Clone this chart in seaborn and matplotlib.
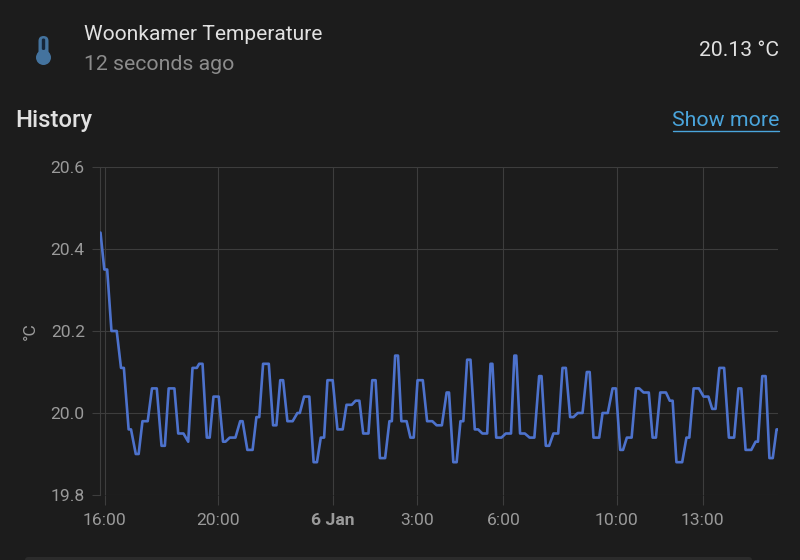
import matplotlib

matplotlib.use("Agg")
import matplotlib.pyplot as plt
import pandas as pd
import seaborn as sns
from matplotlib.patches import Circle, FancyBboxPatch

# minutes after 16:00
minutes = [
    -5, 3, 9, 18, 29, 38, 44, 54, 59, 69, 75, 83, 94, 103, 113, 123, 130, 138, 150, 158,
    169, 179, 188, 197, 202, 209, 218, 224, 232, 243, 252, 257, 266, 278, 288, 293, 303, 314, 322, 328,
    336, 348, 357, 364, 372, 378, 387, 398, 408, 413, 422, 433, 442, 449, 457, 464, 471, 482, 492, 503,
    511, 522, 530, 538, 546, 557, 565, 572, 581, 592, 601, 606, 613, 619, 626, 637, 645, 652, 660, 671,
    680, 691, 700, 711, 721, 726, 735, 742, 750, 756, 764, 771, 780, 787, 796, 806, 813, 817, 825, 836,
    845, 856, 863, 867, 875, 885, 895, 905, 915, 920, 929, 936, 945, 955, 964, 971, 980, 987, 996, 1006,
    1015, 1021, 1029, 1041, 1048, 1059, 1069, 1076, 1085, 1091, 1099, 1109, 1118, 1125, 1134, 1145, 1153, 1160, 1169, 1181,
    1189, 1195, 1203, 1215, 1224, 1230, 1239, 1250, 1260, 1270, 1278, 1285, 1293, 1303, 1313, 1324, 1333, 1339, 1348, 1360,
    1369, 1374, 1383, 1390, 1398, 1405, 1413, 1416,
]
temps = [
    20.44, 20.35, 20.35, 20.20, 20.20, 20.11, 20.11, 19.96, 19.96, 19.90, 19.90, 19.98, 19.98, 20.06, 20.06, 19.92, 19.92, 20.06, 20.06, 19.95,
    19.95, 19.93, 20.11, 20.11, 20.12, 20.12, 19.94, 19.94, 20.04, 20.04, 19.93, 19.93, 19.94, 19.94, 19.98, 19.98, 19.91, 19.91, 19.99, 19.99,
    20.12, 20.12, 19.97, 19.97, 20.08, 20.08, 19.98, 19.98, 20.00, 20.00, 20.04, 20.04, 19.88, 19.88, 19.94, 19.94, 20.08, 20.08, 19.96, 19.96,
    20.02, 20.02, 20.03, 20.03, 19.95, 19.95, 20.08, 20.08, 19.89, 19.89, 19.98, 19.98, 20.14, 20.14, 19.98, 19.98, 19.94, 19.94, 20.08, 20.08,
    19.98, 19.98, 19.97, 19.97, 20.05, 20.05, 19.88, 19.88, 19.98, 19.98, 20.13, 20.13, 19.96, 19.96, 19.95, 19.95, 20.12, 20.12, 19.94, 19.94,
    19.95, 19.95, 20.14, 20.14, 19.95, 19.95, 19.94, 19.94, 20.09, 20.09, 19.92, 19.92, 19.95, 19.95, 20.11, 20.11, 19.99, 19.99, 20.00, 20.00,
    20.10, 20.10, 19.94, 19.94, 20.00, 20.00, 20.06, 20.06, 19.91, 19.91, 19.94, 19.94, 20.06, 20.06, 20.05, 20.05, 19.94, 19.94, 20.05, 20.05,
    20.03, 20.03, 19.88, 19.88, 19.94, 19.94, 20.06, 20.06, 20.04, 20.04, 20.01, 20.01, 20.11, 20.11, 19.94, 19.94, 20.06, 20.06, 19.91, 19.91,
    19.93, 19.93, 20.09, 20.09, 19.89, 19.89, 19.96, 19.96,
]
tick_minutes = [4, 242, 482, 659, 840, 1078, 1258]
tick_labels = ["16:00", "20:00", "6 Jan", "3:00", "6:00", "10:00", "13:00"]
y_ticks = [19.8, 20.0, 20.2, 20.4, 20.6]

BG = "#1c1c1c"
GRID = "#3d3d3d"
AXIS_TEXT = "#9a9a9a"
ICON = "#44739e"

sns.set_theme(style="dark")
plt.rcParams["font.family"] = ["Roboto", "DejaVu Sans"]

W, H = 800, 560
fig = plt.figure(figsize=(8, 5.6), dpi=100, facecolor=BG)
ax = fig.add_axes([100.5 / W, 1 - 495 / H, (778 - 100.5) / W, (495 - 167) / H], facecolor=BG)

df = pd.DataFrame({"minutes": minutes, "temp": temps})
sns.lineplot(data=df, x="minutes", y="temp", estimator=None, sort=False, color="#4d72cc", linewidth=1.9, ax=ax, zorder=3)

ax.set_xlim(-5, 1416)
ax.set_ylim(19.8, 20.6)
ax.set_xticks(tick_minutes, tick_labels)
ax.set_yticks(y_ticks, [f"{v:.1f}" for v in y_ticks])
ax.grid(True, color=GRID, linewidth=0.8)
ax.tick_params(axis="x", length=7.2, width=0.8, color=GRID, labelcolor=AXIS_TEXT, labelsize=12.6, pad=6, bottom=True)
ax.tick_params(axis="y", length=5.8, width=0.8, color=GRID, labelcolor=AXIS_TEXT, labelsize=12.6, pad=5.5, left=True)
ax.get_xticklabels()[2].set_fontweight("bold")
ax.set_xlabel("")
ax.set_ylabel("")
for side in ["top", "right", "bottom"]:
    ax.spines[side].set_visible(False)
ax.spines["left"].set_color(GRID)
ax.spines["left"].set_linewidth(0.8)

# header, icon and link drawn in pixel coordinates
over = fig.add_axes([0, 0, 1, 1], facecolor="none")
over.set_xlim(0, W)
over.set_ylim(H, 0)
over.axis("off")

over.add_patch(FancyBboxPatch((38.5, 36), 10, 24, boxstyle="round,pad=0,rounding_size=5", fc=ICON, ec="none"))
over.add_patch(Circle((43.5, 57.5), 7.5, fc=ICON, ec="none"))
over.add_patch(FancyBboxPatch((41.8, 38.5), 3.4, 11.5, boxstyle="round,pad=0,rounding_size=1.5", fc="#16263a", ec="none"))

over.text(84, 35, "Woonkamer Temperature", color="#e1e1e1", fontsize=15.1, va="center", ha="left")
over.text(84, 65, "12 seconds ago", color="#8c8c8c", fontsize=15.3, va="center", ha="left")
over.text(779, 50, "20.13 °C", color="#e1e1e1", fontsize=15.2, va="center", ha="right")
over.text(15, 121, "History", color="#e1e1e1", fontsize=17.2, fontweight="medium", va="center", ha="left")
over.text(779, 121, "Show more", color="#4aa5dc", fontsize=15.3, va="center", ha="right")
over.plot([673, 779], [131, 131], color="#4aa5dc", linewidth=1)
over.text(30, 331, "°C", color=AXIS_TEXT, fontsize=12.6, rotation=90, va="center", ha="center")
over.add_patch(FancyBboxPatch((25, 557), 727, 6, boxstyle="round,pad=0,rounding_size=3", fc="#2b2b2b", ec="none"))

fig.savefig("out.png", dpi=100, facecolor=BG)
plt.close(fig)
